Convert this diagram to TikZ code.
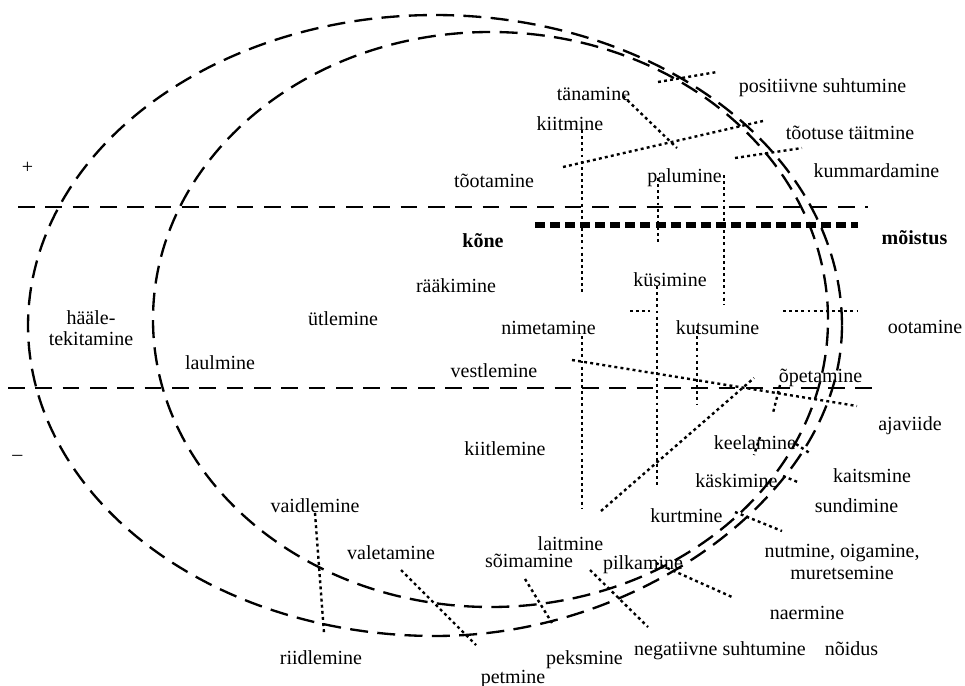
\documentclass[tikz,border=0pt]{standalone}
\usepackage{fontspec}
\setmainfont{Liberation Serif}
\begin{document}
\begin{tikzpicture}[x=0.75pt,y=-0.75pt,
  ell/.style={line width=1.75pt, dash pattern=on 13.5pt off 7pt},
  hdash/.style={line width=1.75pt, dash pattern=on 12.5pt off 8pt},
  thickdash/.style={line width=3.8pt, dash pattern=on 7.5pt off 3.8pt},
  dotln/.style={line width=1.8pt, dash pattern=on 2.2pt off 2.4pt},
  lbl/.style={font=\fontsize{15}{16}\selectfont, inner sep=0pt, anchor=base},
  two/.style={lbl, anchor=center, align=center}
]
\useasboundingbox (0,0) rectangle (965,686);

% ellipses
\draw[ell] plot[domain=0:360, samples=300]
  ({435+407*cos(\x)-14*max(0,sin(2*\x))*max(0,sin(\x))}, {325.5+310.5*sin(\x)}) -- cycle;
\draw[ell] (490.5,319.5) ellipse [x radius=253.125pt, y radius=215.625pt];

% horizontal lines
\draw[hdash] (18,207) -- (868,207);
\draw[hdash] (8,388) -- (877,388);
\draw[thickdash] (535,225) -- (858,225);

% dotted separators
\draw[dotln] (658,82) -- (717,72);
\draw[dotln] (623,96) -- (677,148);
\draw[dotln] (563,167) -- (763,121);
\draw[dotln] (735,158) -- (802,148);
\draw[dotln] (582,130) -- (582,295);
\draw[dotln] (658,178) -- (658,245);
\draw[dotln] (724,175) -- (724,304);
\draw[dotln] (657,286) -- (657,485);
\draw[dotln] (630,311) -- (650,311);
\draw[dotln] (783,311) -- (857,311);
\draw[dotln] (582,336) -- (582,508);
\draw[dotln] (697,330) -- (697,405);
\draw[dotln] (572,360) -- (857,406);
\draw[dotln] (601,511) -- (754,378);
\draw[dotln] (780,385) -- (773,413);
\draw[dotln] (760,437) -- (754,455);
\draw[dotln] (796,444) -- (811,454);
\draw[dotln] (783,476) -- (800,483);
\draw[dotln] (735,512) -- (782,531);
\draw[dotln] (656,563) -- (732,597);
\draw[dotln] (590,570) -- (648,627);
\draw[dotln] (525,579) -- (552,623);
\draw[dotln] (401,570) -- (476,645);
\draw[dotln] (315,513) -- (324,633);

% labels
\node[lbl] (posit) at (822.5,92) {positiivne suhtumine};
\node[lbl] (tanam) at (593.5,100) {tänamine};
\node[lbl] (kiitm) at (570,130) {kiitmine};
\node[lbl] (tootus) at (850,139) {tõotuse täitmine};
\node[lbl, anchor=center] (plus) at (27.5,168) {+};
\node[lbl] (kumm) at (876.5,177) {kummardamine};
\node[lbl] (tootam) at (494,187) {tõotamine};
\node[lbl] (palum) at (684.5,182) {palumine};
\node[lbl, font=\fontsize{15}{16}\selectfont\bfseries] (kone) at (483,247) {kõne};
\node[lbl, font=\fontsize{15}{16}\selectfont\bfseries] (moist) at (914.5,244) {mõistus};
\node[lbl] (kusim) at (670,286) {küsimine};
\node[lbl] (raak) at (456,292) {rääkimine};
\node[two] (haale) at (91,328) {hääle-\\tekitamine};
\node[lbl] (utlem) at (343,325) {ütlemine};
\node[lbl] (nimet) at (548.5,334) {nimetamine};
\node[lbl] (kutsum) at (717.5,334) {kutsumine};
\node[lbl] (ootam) at (925,333) {ootamine};
\node[lbl] (laulm) at (220,369) {laulmine};
\node[lbl] (vestl) at (494,377) {vestlemine};
\node[lbl] (opet) at (820.5,382) {õpetamine};
\node[lbl] (ajav) at (910,430) {ajaviide};
\node[lbl] (keel) at (755,449) {keelamine};
\node[lbl] (kiitl) at (505,455) {kiitlemine};
\node[lbl] (minus) at (17.5,460) {\textendash};
\node[lbl] (kask) at (736.5,487) {käskimine};
\node[lbl] (kaits) at (872,482) {kaitsmine};
\node[lbl] (vaidl) at (315,512) {vaidlemine};
\node[lbl] (sund) at (856.5,512) {sundimine};
\node[lbl] (kurt) at (686.5,522) {kurtmine};
\node[lbl] (laitm) at (570.5,550) {laitmine};
\node[two] (nutm) at (842,562) {nutmine, oigamine,\\muretsemine};
\node[lbl] (valet) at (391,559) {valetamine};
\node[lbl] (soim) at (529,567) {sõimamine};
\node[lbl] (pilk) at (643,569) {pilkamine};
\node[lbl] (naerm) at (807,619) {naermine};
\node[lbl] (riidl) at (321,664) {riidlemine};
\node[lbl] (negat) at (720,655) {negatiivne suhtumine};
\node[lbl] (noidus) at (851.5,655) {nõidus};
\node[lbl] (peksm) at (584.5,664) {peksmine};
\node[lbl] (petm) at (513,683) {petmine};
\end{tikzpicture}
\end{document}
